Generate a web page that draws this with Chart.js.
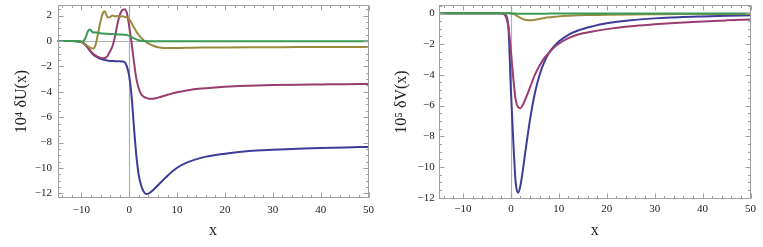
<!DOCTYPE html>
<html>
<head>
<meta charset="utf-8">
<script src="https://cdn.jsdelivr.net/npm/chart.js@4.4.0/dist/chart.umd.min.js"></script>
<style>
  html, body { margin: 0; padding: 0; background: #fff; }
  #wrap { position: relative; width: 763px; height: 247px; }
  canvas { position: absolute; top: 0; }
  #chartU { left: 0; }
  #chartV { left: 380px; }
</style>
</head>
<body>
<div id="wrap">
  <canvas id="chartU" width="380" height="247"></canvas>
  <canvas id="chartV" width="383" height="247"></canvas>
</div>
<script>
// left panel: 10^4 dU(x)
const xU = [-15, -12, -10, -9.5, -9, -8.7, -8.4, -8.2, -8, -7.5, -7, -6.5, -6, -5.5, -5.2, -5, -4.5, -4, -3.5, -3, -2.5, -2, -1.5, -1, -0.5, 0, 0.5, 1, 1.5, 2, 2.5, 3, 3.5, 4, 5, 6, 7, 8, 10, 12, 15, 20, 25, 30, 35, 40, 45, 50];
const uBlue = [0, -0.01, -0.08, -0.2, -0.38, -0.52, -0.68, -0.78, -0.88, -1.08, -1.22, -1.32, -1.4, -1.46, -1.49, -1.51, -1.54, -1.57, -1.58, -1.59, -1.6, -1.6, -1.61, -1.66, -2.0, -2.8, -4.4, -6.9, -9.1, -10.6, -11.4, -11.85, -12.05, -12.02, -11.73, -11.35, -10.98, -10.6, -9.98, -9.58, -9.2, -8.87, -8.66, -8.56, -8.49, -8.43, -8.38, -8.34];
const uPurple = [0, -0.01, -0.08, -0.2, -0.37, -0.5, -0.65, -0.75, -0.85, -1.03, -1.16, -1.26, -1.33, -1.36, -1.35, -1.33, -1.15, -0.8, -0.4, 0.3, 1.28, 2.03, 2.4, 2.5, 2.2, 1.1, -0.2, -1.7, -3.0, -3.75, -4.2, -4.38, -4.48, -4.54, -4.55, -4.46, -4.35, -4.24, -4.04, -3.9, -3.75, -3.6, -3.52, -3.47, -3.44, -3.42, -3.4, -3.39];
const uOlive = [0, -0.01, -0.08, -0.18, -0.32, -0.4, -0.48, -0.52, -0.56, -0.6, -0.25, 0.65, 1.55, 2.2, 2.33, 2.25, 1.85, 1.9, 2.0, 1.93, 1.96, 1.9, 1.94, 1.9, 1.85, 1.7, 1.4, 1.05, 0.72, 0.45, 0.25, 0.06, -0.08, -0.2, -0.38, -0.5, -0.55, -0.56, -0.55, -0.54, -0.52, -0.51, -0.5, -0.49, -0.48, -0.48, -0.47, -0.47];
const uGreen = [0, -0.01, -0.05, 0.02, 0.38, 0.72, 0.88, 0.9, 0.82, 0.66, 0.68, 0.62, 0.6, 0.58, 0.58, 0.57, 0.56, 0.55, 0.54, 0.53, 0.52, 0.51, 0.5, 0.49, 0.46, 0.4, 0.3, 0.2, 0.12, 0.06, 0.02, 0, -0.01, -0.02, -0.02, -0.02, -0.02, -0.02, -0.02, -0.02, -0.02, -0.02, -0.02, -0.02, -0.02, -0.02, -0.02, -0.02];

// right panel: 10^5 dV(x)
const xV = [-15, -5, -2, -1.5, -1, -0.5, 0, 0.5, 1, 1.5, 2, 2.5, 3, 3.5, 4, 5, 6, 7, 8, 9, 10, 12, 14, 17, 20, 25, 30, 35, 40, 45, 50];
const vBlue = [0, 0, 0, -0.02, -0.15, -1.0, -5.0, -8.3, -11.0, -11.67, -11.2, -10.2, -9.05, -7.95, -6.9, -5.2, -4.0, -3.15, -2.55, -2.15, -1.83, -1.4, -1.12, -0.85, -0.65, -0.45, -0.33, -0.25, -0.2, -0.16, -0.13];
const vPurple = [0, 0, 0, -0.03, -0.25, -0.9, -2.45, -4.2, -5.6, -6.1, -6.17, -5.95, -5.6, -5.22, -4.82, -4.0, -3.4, -2.9, -2.55, -2.22, -1.98, -1.62, -1.38, -1.18, -1.03, -0.84, -0.72, -0.62, -0.53, -0.46, -0.4];
const vOlive = [0, 0, 0, 0, 0, 0, -0.01, -0.04, -0.12, -0.22, -0.3, -0.37, -0.42, -0.45, -0.46, -0.42, -0.36, -0.3, -0.26, -0.23, -0.2, -0.16, -0.13, -0.11, -0.09, -0.07, -0.06, -0.05, -0.05, -0.04, -0.04];
const vGreen = [0, 0, 0, 0, 0, 0, 0, -0.01, -0.02, -0.03, -0.03, -0.03, -0.03, -0.03, -0.03, -0.03, -0.03, -0.03, -0.02, -0.02, -0.02, -0.02, -0.02, -0.02, -0.02, -0.01, -0.01, -0.01, -0.01, -0.01, -0.01];

// tick labels
const xTicks = [-10, 0, 10, 20, 30, 40, 50];
const uTicks = [-12, -10, -8, -6, -4, -2, 0, 2];
const vTicks = [-12, -10, -8, -6, -4, -2, 0];

const colors = ['#3d3d99', '#993d71', '#998b3d', '#3d9956'];
const tickFont = { family: 'Liberation Serif', size: 11 };
const titleFont = { family: 'Liberation Serif', size: 16 };

function fmt(v) {
  return v < 0 ? '\u2212' + (-v) : '' + v;
}

// Mathematica style frame: axes through 0, ticks inside on all four sides
const frameTicks = {
  id: 'frameTicks',
  beforeDatasetsDraw(chart) {
    const { ctx, chartArea: a, scales: { x, y } } = chart;
    const x0 = Math.round(x.getPixelForValue(0)) + 0.5;
    const y0 = Math.round(y.getPixelForValue(0)) + 0.5;
    ctx.save();
    ctx.strokeStyle = '#b0b0b0';
    ctx.lineWidth = 1.2;
    ctx.beginPath();
    ctx.moveTo(x0, a.top); ctx.lineTo(x0, a.bottom);
    ctx.moveTo(a.left, y0); ctx.lineTo(a.right, y0);
    ctx.stroke();
    ctx.restore();
  },
  afterDraw(chart) {
    const { ctx, chartArea: a, scales: { x, y } } = chart;
    const l = Math.round(a.left) + 0.5, r = Math.round(a.right) - 0.5;
    const t = Math.round(a.top) + 0.5, b = Math.round(a.bottom) - 0.5;
    ctx.save();
    ctx.strokeStyle = '#a0a0a0';
    ctx.lineWidth = 1;
    ctx.strokeRect(l, t, r - l, b - t);
    ctx.beginPath();
    for (let v = -14; v <= 50; v += 2) {
      const px = Math.round(x.getPixelForValue(v)) + 0.5;
      const len = v % 10 === 0 ? 5 : 2.5;
      ctx.moveTo(px, b); ctx.lineTo(px, b - len);
      ctx.moveTo(px, t); ctx.lineTo(px, t + len);
    }
    for (let v = Math.ceil(y.min * 2) / 2; v <= y.max; v += 0.5) {
      const py = Math.round(y.getPixelForValue(v)) + 0.5;
      const len = Math.abs(v % 2) < 1e-6 ? 5 : 2.5;
      ctx.moveTo(l, py); ctx.lineTo(l + len, py);
      ctx.moveTo(r, py); ctx.lineTo(r - len, py);
    }
    ctx.stroke();
    ctx.restore();
  }
};

function makeChart(id, xs, series, yMin, yMax, yTicks, yTitle, box) {
  let ctx = document.getElementById(id);
  let datasets = series.map(function (s, i) {
    return {
      data: xs.map(function (xv, j) { return { x: xv, y: s[j] }; }),
      borderColor: colors[i],
      borderWidth: 2,
      pointRadius: 0,
      fill: false,
      cubicInterpolationMode: 'monotone',
      order: series.length - i
    };
  });

  //options
  let options = {
    responsive: false,
    animation: false,
    events: [],
    layout: { padding: { left: 0, right: box.right, top: box.top, bottom: 0 } },
    plugins: { legend: { display: false }, tooltip: { enabled: false } },
    scales: {
      x: {
        type: 'linear', min: -15, max: 50,
        afterBuildTicks: function (s) { s.ticks = xTicks.map(function (v) { return { value: v }; }); },
        afterFit: function (s) { s.height = box.xAxisH; s.paddingLeft = 0; s.paddingRight = 0; },
        grid: { display: false, drawTicks: false },
        border: { display: false },
        ticks: { padding: box.xPad, font: tickFont, color: '#222', callback: fmt, maxRotation: 0, autoSkip: false },
        title: { display: true, text: 'x', font: titleFont, color: '#222', padding: { top: 0, bottom: box.xTitlePad } }
      },
      y: {
        type: 'linear', min: yMin, max: yMax,
        afterBuildTicks: function (s) { s.ticks = yTicks.map(function (v) { return { value: v }; }); },
        afterFit: function (s) { s.width = box.yAxisW; s.paddingTop = 0; s.paddingBottom = 0; },
        grid: { display: false, drawTicks: false },
        border: { display: false },
        ticks: { padding: box.yPad, font: tickFont, color: '#222', callback: fmt, autoSkip: false },
        title: { display: true, text: yTitle, font: titleFont, color: '#222', padding: { top: box.yTitlePad, bottom: 0 } }
      }
    }
  };

  return new Chart(ctx, {
    type: 'line',
    data: { datasets: datasets },
    options: options,
    plugins: [frameTicks]
  });
}

makeChart('chartU', xU, [uBlue, uPurple, uOlive, uGreen], -12.36, 2.83, uTicks, '10\u2074 \u03b4U(x)',
  { right: 11.5, top: 5, xAxisH: 49, yAxisW: 57.5, xPad: 5.4, yPad: 5.5, xTitlePad: 6.4, yTitlePad: 12.4 });

makeChart('chartV', xV, [vBlue, vPurple, vOlive, vGreen], -12.08, 0.54, vTicks, '10\u2075 \u03b4V(x)',
  { right: 12.5, top: 5, xAxisH: 48, yAxisW: 59, xPad: 3.5, yPad: 4.3, xTitlePad: 6.4, yTitlePad: 12.1 });
</script>
</body>
</html>
